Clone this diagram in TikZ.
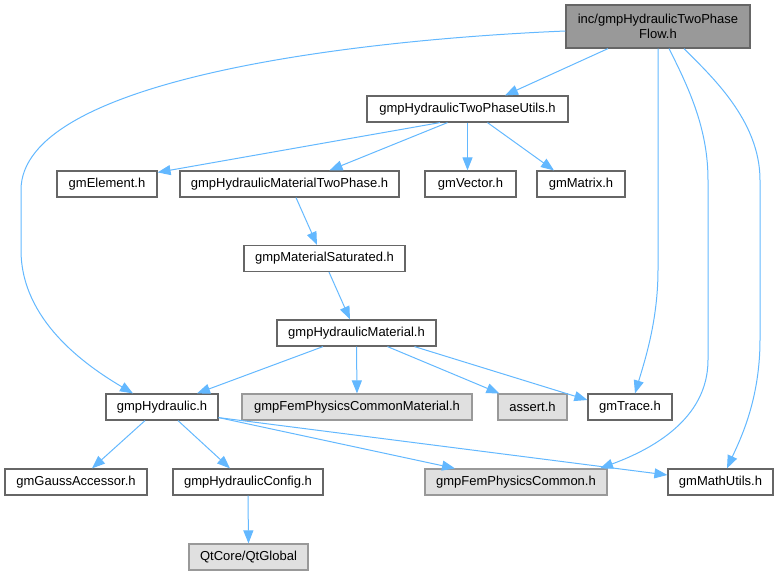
\documentclass[tikz,border=0pt]{standalone}
\usepackage{fontspec}
\setmainfont{Liberation Sans}
\usetikzlibrary{arrows.meta}
\definecolor{edgeblue}{HTML}{63B8FF}
\definecolor{nodeborder}{HTML}{666666}
\definecolor{grayfill}{HTML}{E0E0E0}
\definecolor{grayborder}{HTML}{999999}
\definecolor{rootfill}{HTML}{999999}
\begin{document}
\begin{tikzpicture}[x=1pt,y=-1pt,
  box/.style={draw=nodeborder, fill=white, line width=1.2pt, inner sep=0pt,
    minimum height=26pt, font=\fontsize{13}{15}\selectfont, anchor=center},
  ext/.style={box, draw=grayborder, fill=grayfill},
  rootbox/.style={box, fill=rootfill, align=center, minimum height=43pt},
  dep/.style={draw=edgeblue, line width=1pt, -{Triangle[length=13pt,width=10pt]}}]
\useasboundingbox (0,0) rectangle (780,576);

\node[rootbox, minimum width=184pt] (root) at (658,26.5) {inc/gmpHydraulicTwoPhase\\Flow.h};
\node[box, minimum width=201pt] (utils) at (467.5,109) {gmpHydraulicTwoPhaseUtils.h};
\node[box, minimum width=100pt] (elem) at (107,184) {gmElement.h};
\node[box, minimum width=219pt] (mtp) at (289.5,184) {gmpHydraulicMaterialTwoPhase.h};
\node[box, minimum width=91pt] (vec) at (470.5,184) {gmVector.h};
\node[box, minimum width=88pt] (mat) at (581,184) {gmMatrix.h};
\node[box, minimum width=161pt] (sat) at (324.5,258.5) {gmpMaterialSaturated.h};
\node[box, minimum width=159pt] (hm) at (356.5,333) {gmpHydraulicMaterial.h};
\node[box, minimum width=112pt] (hyd) at (162,407) {gmpHydraulic.h};
\node[ext, minimum width=230pt] (fcm) at (357,407) {gmpFemPhysicsCommonMaterial.h};
\node[ext, minimum width=69pt] (as) at (532.5,407) {assert.h};
\node[box, minimum width=84pt] (tr) at (630,407) {gmTrace.h};
\node[box, minimum width=142pt] (ga) at (76,482) {gmGaussAccessor.h};
\node[box, minimum width=150pt] (cfg) at (248,482) {gmpHydraulicConfig.h};
\node[ext, minimum width=182pt] (fc) at (516,482) {gmpFemPhysicsCommon.h};
\node[box, minimum width=105pt] (mu) at (720.5,482) {gmMathUtils.h};
\node[ext, minimum width=119pt] (qt) at (248.5,557) {QtCore/QtGlobal};

% root edges
\draw[dep] ([xshift=-50pt]root.south) -- ([xshift=37.5pt]utils.north);
\draw[dep] ([yshift=-4.5pt]root.west) .. controls (350,40) and (21,80) .. (21,190)
  -- (21,250) .. controls (21,320) and (85,365) .. ([xshift=-29pt]hyd.north);
\draw[dep] (root.south) -- (658,270) .. controls (658,320) and (645,360) .. ([xshift=5pt]tr.north);
\draw[dep] ([xshift=11pt]root.south) .. controls (690,90) and (708,130) .. (708,180)
  -- (708,360) .. controls (708,420) and (650,450) .. ([xshift=84pt]fc.north);
\draw[dep] ([xshift=26pt]root.south) .. controls (710,75) and (760,120) .. (760,180)
  -- (760,340) .. controls (760,400) and (740,440) .. ([xshift=6.5pt]mu.north);

% utils edges
\draw[dep] ([xshift=-27.5pt]utils.south) -- ([yshift=-2pt]elem.north east);
\draw[dep] ([xshift=-20pt]utils.south) -- ([xshift=40pt]mtp.north);
\draw[dep] (utils.south) -- ([xshift=-3pt]vec.north);
\draw[dep] ([xshift=20pt]utils.south) -- ([xshift=-27pt]mat.north);

% chain
\draw[dep] ([xshift=6.5pt]mtp.south) -- ([xshift=-7.5pt]sat.north);
\draw[dep] ([xshift=4.5pt]sat.south) -- ([xshift=-6.5pt]hm.north);

% hydraulic material edges
\draw[dep] ([xshift=-33.5pt]hm.south) -- ([xshift=35pt]hyd.north);
\draw[dep] (hm.south) -- (fcm.north);
\draw[dep] ([xshift=31pt]hm.south) -- ([xshift=2pt]as.north west);
\draw[dep] ([xshift=58pt]hm.south) -- ([yshift=7pt]tr.west);

% hydraulic edges
\draw[dep] ([xshift=-17pt]hyd.south) -- ([xshift=16pt]ga.north);
\draw[dep] ([xshift=16pt]hyd.south) -- ([xshift=-18pt]cfg.north);
\draw[dep] ([yshift=3pt]hyd.south east) -- ([xshift=-61pt]fc.north);
\draw[dep] ([yshift=3pt]hyd.south east) -- ([yshift=7pt]mu.west);

\draw[dep] (cfg.south) -- (qt.north);
\end{tikzpicture}
\end{document}
